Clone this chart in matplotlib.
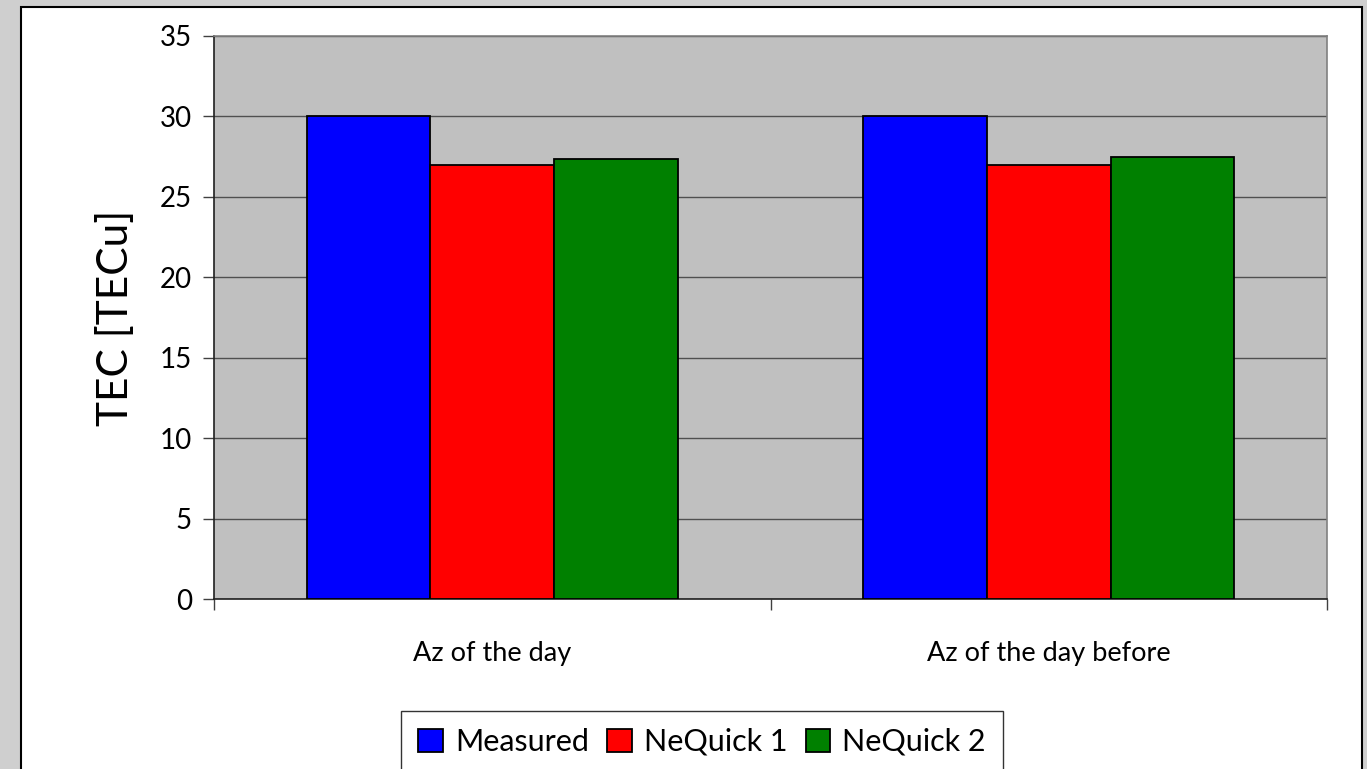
import matplotlib
matplotlib.use("Agg")
import matplotlib.pyplot as plt
import numpy as np
from matplotlib.patches import Rectangle

plt.rcParams["font.family"] = ["Lato", "DejaVu Sans"]

categories = ["Az of the day", "Az of the day before"]
series_names = ["Measured", "NeQuick 1", "NeQuick 2"]
measured = [30.0, 30.0]
nequick1 = [27.0, 27.0]
nequick2 = [27.35, 27.48]
series_colors = ["#0000ff", "#ff0000", "#008000"]
y_ticks = [0, 5, 10, 15, 20, 25, 30, 35]

W, H = 1367, 769
fig = plt.figure(figsize=(W / 100, H / 100), dpi=100)
fig.patch.set_facecolor("#cfcfcf")

# white chart frame (runs past the bottom edge, as in the slide)
frame = Rectangle((21 / W, -0.05), (1362 - 21) / W, (H - 7) / H + 0.05,
                  transform=fig.transFigure, facecolor="white",
                  edgecolor="black", linewidth=1.5, zorder=-10)
fig.add_artist(frame)

ax = fig.add_axes([214 / W, (H - 599) / H, (1327 - 214) / W, (599 - 36) / H])
ax.set_facecolor("#c0c0c0")

x = np.arange(len(categories))
bw = 2 / 3 / 3
for i, (vals, name, col) in enumerate(zip([measured, nequick1, nequick2], series_names, series_colors)):
    ax.bar(x + (i - 1) * bw, vals, width=bw, color=col, edgecolor="black",
           linewidth=1.3, label=name, zorder=3)

ax.set_xlim(-0.5, len(categories) - 0.5)
ax.set_ylim(0, 35)
ax.set_yticks(y_ticks)
ax.yaxis.grid(True, color="#505050", linewidth=1.0, zorder=1)
ax.set_axisbelow(True)

# category boundaries as major ticks, names on minor ticks at centres
ax.set_xticks(np.arange(len(categories) + 1) - 0.5)
ax.set_xticklabels([])
ax.set_xticks(x, minor=True)
ax.set_xticklabels(categories, minor=True, fontsize=19.5)
ax.tick_params(axis="x", which="major", direction="out", length=8, width=1, color="#404040")
ax.tick_params(axis="x", which="minor", length=0, pad=30)
ax.tick_params(axis="y", direction="out", length=8, width=1, color="#404040",
               labelsize=20, pad=8)

for side in ["top", "right"]:
    ax.spines[side].set_color("#808080")
    ax.spines[side].set_linewidth(1.2)
for side in ["left", "bottom"]:
    ax.spines[side].set_color("#202020")
    ax.spines[side].set_linewidth(1.2)

ax.set_ylabel("TEC [TECu]", fontsize=30.5, labelpad=18)

leg = fig.legend(loc="upper center", bbox_to_anchor=(702 / W, (H - 711) / H),
                 ncol=3, fontsize=22, frameon=True, fancybox=False,
                 handlelength=0.8, handleheight=0.8, handletextpad=0.4,
                 columnspacing=0.6, borderpad=0.55, borderaxespad=0)
leg.get_frame().set_edgecolor("black")
leg.get_frame().set_linewidth(1.0)

fig.savefig("out.png", dpi=100)
